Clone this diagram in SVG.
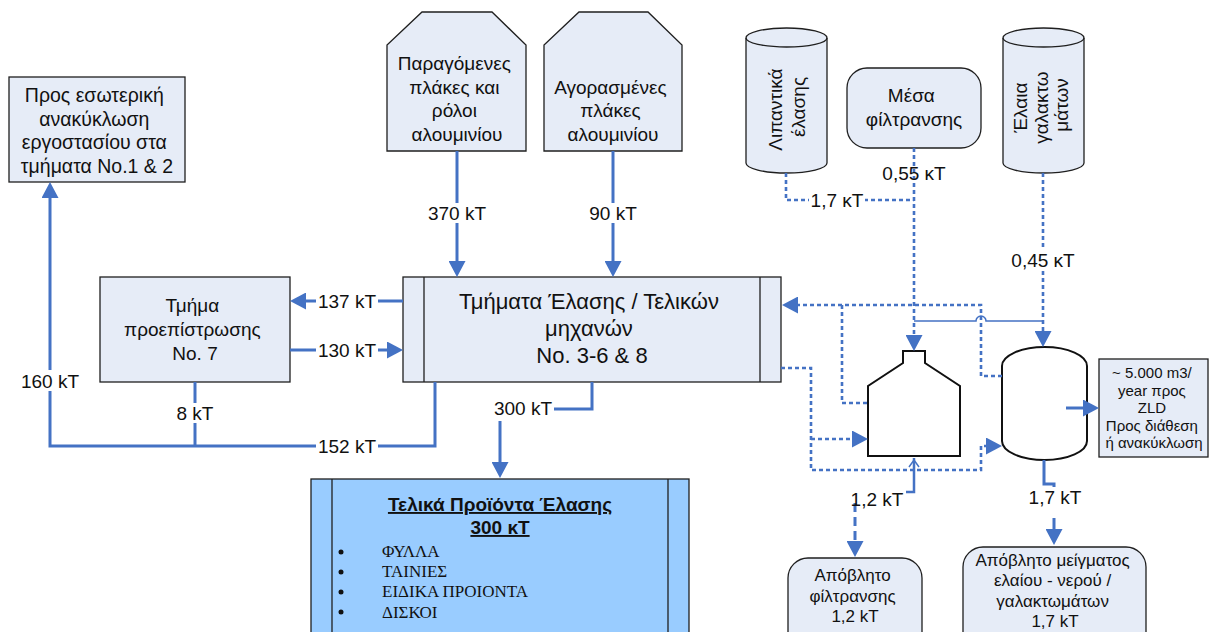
<svg xmlns="http://www.w3.org/2000/svg" width="1216" height="632" viewBox="0 0 1216 632">
  <defs>
    <style>
      .box { fill:#E6ECF7; stroke:#1f1f1f; stroke-width:1.3; }
      .vessel { fill:#ffffff; stroke:#111111; stroke-width:2; }
      .t { font-family:"Liberation Sans", Arial, sans-serif; font-size:19px; fill:#111111; text-anchor:middle; }
      .big { font-size:22px; }
      .sm { font-size:15px; }
      .mid { font-size:17px; }
      .ttl { font-weight:bold; text-decoration:underline; }
      .ser { font-family:"Liberation Serif", "Times New Roman", serif; font-size:17px; fill:#111111; }
      .c { fill:none; stroke:#4472C4; stroke-width:3; }
      .d { fill:none; stroke:#4472C4; stroke-width:2.6; stroke-dasharray:4 3; }
      .ld { fill:none; stroke:#4472C4; stroke-width:3; stroke-dasharray:9 5; }
      .thin { fill:none; stroke:#4472C4; stroke-width:1.5; }
      .bg { fill:#ffffff; }
    </style>
    <marker id="ah" viewBox="0 0 16 17" refX="0" refY="8.5" markerWidth="16" markerHeight="17" markerUnits="userSpaceOnUse" orient="auto">
      <path d="M0,0 L16,8.5 L0,17 Z" fill="#4472C4"/>
    </marker>
  </defs>

  <rect width="1216" height="632" fill="#ffffff"/>

  <g id="internal-recycling">
    <rect class="box" x="9" y="77" width="176" height="105"/>
    <text class="t" style="font-size:19.5px">
      <tspan x="97" y="102">Προς εσωτερική</tspan>
      <tspan x="97" y="125.5">ανακύκλωση</tspan>
      <tspan x="97" y="149">εργοστασίου στα</tspan>
      <tspan x="97" y="172.5">τμήματα No.1 &amp; 2</tspan>
    </text>
  </g>

  <g id="precoating-7">
    <rect class="box" x="100" y="277" width="190" height="105"/>
    <text class="t">
      <tspan x="195" y="312">Τμήμα</tspan>
      <tspan x="195" y="336">προεπίστρωσης</tspan>
      <tspan x="195" y="360">No. 7</tspan>
    </text>
  </g>

  <g id="produced-plates">
    <polygon class="box" points="422,12 492,12 526,45 526,151 387,151 387,45"/>
    <text class="t">
      <tspan x="457" y="70">Παραγόμενες</tspan>
      <tspan x="457" y="93.5">πλάκες και</tspan>
      <tspan x="457" y="117">ρόλοι</tspan>
      <tspan x="457" y="140.5">αλουμινίου</tspan>
    </text>
  </g>

  <g id="purchased-plates">
    <polygon class="box" points="579,12 648,12 682,45 682,151 544,151 544,45"/>
    <text class="t">
      <tspan x="613" y="93.5">Αγορασμένες</tspan>
      <tspan x="613" y="117">πλάκες</tspan>
      <tspan x="613" y="140.5">αλουμινίου</tspan>
    </text>
  </g>

  <g id="rolling-mills">
    <rect class="box" x="403" y="277" width="378" height="105"/>
    <line x1="424" y1="277" x2="424" y2="382" stroke="#1f1f1f" stroke-width="1.3"/>
    <line x1="760" y1="277" x2="760" y2="382" stroke="#1f1f1f" stroke-width="1.3"/>
    <text class="t big">
      <tspan x="592" y="309">Τμήματα Έλασης / Τελικών</tspan>
      <tspan x="592" y="336">μηχανών</tspan>
      <tspan x="592" y="363">No. 3-6 &amp; 8</tspan>
    </text>
  </g>

  <g id="final-products">
    <rect x="311" y="479" width="378" height="170" fill="#99CCFF" stroke="#1f1f1f" stroke-width="1.3"/>
    <line x1="332" y1="479" x2="332" y2="632" stroke="#1f1f1f" stroke-width="1.3"/>
    <line x1="668" y1="479" x2="668" y2="632" stroke="#1f1f1f" stroke-width="1.3"/>
    <text class="t ttl" x="500" y="511">Τελικά Προϊόντα Έλασης</text>
    <text class="t ttl" x="500" y="534">300 κΤ</text>
    <g fill="#111111">
      <circle cx="341" cy="552" r="2.5"/>
      <circle cx="341" cy="572" r="2.5"/>
      <circle cx="341" cy="592" r="2.5"/>
      <circle cx="341" cy="612" r="2.5"/>
    </g>
    <text class="ser">
      <tspan x="382" y="557">ΦΥΛΛΑ</tspan>
      <tspan x="382" y="577">ΤΑΙΝΙΕΣ</tspan>
      <tspan x="382" y="597">ΕΙΔΙΚΑ ΠΡΟΙΟΝΤΑ</tspan>
      <tspan x="382" y="618">ΔΙΣΚΟΙ</tspan>
    </text>
  </g>

  <g id="lubricants">
    <path class="box" d="M746,38 A40.5,10 0 0 1 827,38 V163 A40.5,10 0 0 1 746,163 Z"/>
    <path d="M746,38 A40.5,9 0 0 0 827,38" fill="none" stroke="#1f1f1f" stroke-width="1.3"/>
    <text class="t" transform="translate(782,107) rotate(-90)">
      <tspan x="0" y="0">Λιπαντικά</tspan>
      <tspan x="0" y="23">έλασης</tspan>
    </text>
  </g>

  <g id="filter-media">
    <rect class="box" x="847" y="68" width="134" height="80" rx="20"/>
    <text class="t">
      <tspan x="914" y="102">Μέσα</tspan>
      <tspan x="914" y="126">φίλτρανσης</tspan>
    </text>
  </g>

  <g id="emulsion-oils">
    <path class="box" d="M1003,38 A40.5,10 0 0 1 1084,38 V163 A40.5,10 0 0 1 1003,163 Z"/>
    <path d="M1003,38 A40.5,9 0 0 0 1084,38" fill="none" stroke="#1f1f1f" stroke-width="1.3"/>
    <text class="t" transform="translate(1027,105) rotate(-90)">
      <tspan x="0" y="0">Έλαια</tspan>
      <tspan x="0" y="20.5">γαλακτω</tspan>
      <tspan x="0" y="41">μάτων</tspan>
    </text>
  </g>

  <g id="filter-unit">
    <polygon class="vessel" points="903,351 925,351 925,363 960,386 960,456 868,456 868,386 903,363"/>
  </g>

  <g id="separator-tank">
    <path class="vessel" d="M1002,366 A42.5,19 0 0 1 1087,366 V441 A42.5,19 0 0 1 1002,441 Z"/>
  </g>

  <g id="zld">
    <rect class="box" x="1099" y="359" width="109" height="98"/>
    <text class="t sm">
      <tspan x="1154" y="378">~ 5.000 m3/</tspan>
      <tspan x="1154" y="395.5">year προς</tspan>
      <tspan x="1154" y="413">ZLD</tspan>
      <tspan x="1154" y="430.5">Προς διάθεση</tspan>
      <tspan x="1154" y="448">ή ανακύκλωση</tspan>
    </text>
  </g>

  <g id="filter-waste">
    <rect class="box" x="788" y="558" width="134" height="100" rx="20"/>
    <text class="t mid">
      <tspan x="855" y="581">Απόβλητο</tspan>
      <tspan x="855" y="602">φίλτρανσης</tspan>
      <tspan x="855" y="622">1,2 kT</tspan>
    </text>
  </g>

  <g id="oil-water-waste">
    <rect class="box" x="963" y="547" width="183" height="110" rx="20"/>
    <text class="t mid">
      <tspan x="1055" y="566">Απόβλητο μείγματος</tspan>
      <tspan x="1055" y="586">ελαίου - νερού /</tspan>
      <tspan x="1055" y="607">γαλακτωμάτων</tspan>
      <tspan x="1055" y="627">1,7 kT</tspan>
    </text>
  </g>

  <!-- flows, drawn above the shapes -->
  <g id="connectors">
    <path class="c" d="M435,382 V446 H50 V198" marker-end="url(#ah)"/>
    <path class="c" d="M195,382 V446"/>
    <path class="c" d="M403,301 H306" marker-end="url(#ah)"/>
    <path class="c" d="M290,350 H387" marker-end="url(#ah)"/>
    <path class="c" d="M457,151 V261" marker-end="url(#ah)"/>
    <path class="c" d="M613,151 V261" marker-end="url(#ah)"/>
    <path class="c" d="M592,382 V409 H500 V462" marker-end="url(#ah)"/>
    <path class="c" d="M1066,408 H1083" marker-end="url(#ah)"/>
    <path class="c" d="M1044,460 V484 H1054 V529" marker-end="url(#ah)"/>

    <path class="d" d="M786,173 V200 H914"/>
    <path class="d" d="M914,148 V335" marker-end="url(#ah)"/>
    <path class="d" d="M1043,173 V331" marker-end="url(#ah)"/>
    <path class="d" d="M1002,376 H981 V305 H798" marker-end="url(#ah)"/>
    <path class="d" d="M842,305 V403 H868"/>
    <path class="d" d="M781,368 H811 V470 H981 V446 H986" marker-end="url(#ah)"/>
    <path class="d" d="M811,439 H852" marker-end="url(#ah)"/>
    <path class="thin" d="M914,321 H976 A5,5 0 0 1 986,321 H1043"/>

    <path class="c" d="M914,458 V492 H880" style="stroke-width:2.5"/>
    <path class="thin" d="M909,467 L914,460 L919,467"/>
    <path class="ld" d="M855,503 V541" marker-end="url(#ah)"/>

    <!-- flow labels -->
    <g id="flow-labels">
      <rect class="bg" x="427" y="203" width="60" height="20"/>
      <text class="t" x="457" y="220">370 kT</text>
      <rect class="bg" x="590" y="203" width="46" height="20"/>
      <text class="t" x="613" y="220">90 kT</text>
      <rect class="bg" x="316" y="291" width="62" height="20"/>
      <text class="t" x="347" y="308">137 kT</text>
      <rect class="bg" x="316" y="340" width="62" height="20"/>
      <text class="t" x="347" y="357">130 kT</text>
      <rect class="bg" x="19" y="370" width="62" height="21"/>
      <text class="t" x="50" y="388">160 kT</text>
      <rect class="bg" x="174" y="403" width="42" height="20"/>
      <text class="t" x="195" y="420">8 kT</text>
      <rect class="bg" x="316" y="436" width="62" height="20"/>
      <text class="t" x="347" y="453">152 kT</text>
      <rect class="bg" x="492" y="397" width="62" height="24"/>
      <text class="t" x="523" y="415">300 kT</text>
      <rect class="bg" x="809" y="190" width="56" height="20"/>
      <text class="t" x="837" y="207">1,7 κΤ</text>
      <text class="t" x="914" y="180">0,55 κΤ</text>
      <rect class="bg" x="1010" y="250" width="66" height="20"/>
      <text class="t" x="1043" y="267">0,45 κΤ</text>
      <rect class="bg" x="846" y="486" width="60" height="17"/>
      <text class="t" x="877" y="506">1,2 kT</text>
      <rect class="bg" x="1026" y="487" width="58" height="31"/>
      <text class="t" x="1055" y="504">1,7 kT</text>
    </g>
  </g>
</svg>
